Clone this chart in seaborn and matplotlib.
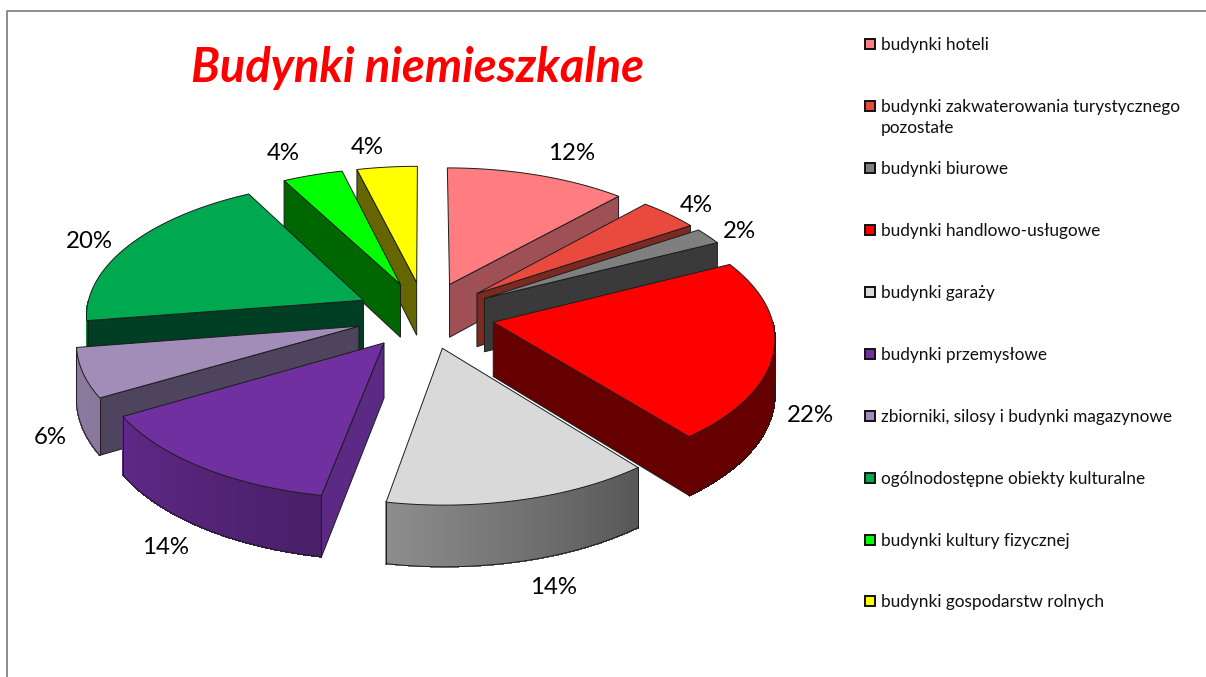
import numpy as np
import seaborn as sns
from matplotlib import pyplot as plt
from matplotlib.colors import to_rgb
from matplotlib.patches import Polygon, Rectangle

categories = ['budynki hoteli', 'budynki zakwaterowania turystycznego\npozostałe', 'budynki biurowe',
              'budynki handlowo-usługowe', 'budynki garaży', 'budynki przemysłowe',
              'zbiorniki, silosy i budynki magazynowe', 'ogólnodostępne obiekty kulturalne',
              'budynki kultury fizycznej', 'budynki gospodarstw rolnych']
values = [12, 4, 2, 22, 14, 14, 6, 20, 4, 4]
top_colors = ['#FF7C80', '#EA4A3E', '#7F7F7F', '#FF0000', '#D9D9D9',
              '#7030A0', '#A28DB8', '#00A94F', '#00FF00', '#FFFF00']
wall_colors = ['#9E5055', '#7B2A22', '#3A3A3A', '#660000', '#8A8A8A',
               '#5A2A85', '#4F445E', '#003F24', '#006600', '#666600']
label_pos = [(572, 154), (696, 206), (739, 232), (810, 415), (554, 587),
             (166, 547), (50, 438), (89, 241), (283, 154), (367, 147)]
legend_y = [44, 106, 168, 230, 292, 354, 416, 478, 540, 601]

# back slices first, so the front ones cover them
draw_order = [0, 1, 2, 9, 8, 7, 6, 3, 5, 4]

CX, CY = 425, 315
RX, RY = 278, 134
DEPTH = 54
EXPLODE = 0.25
PERSP = 0.1

sns.set_theme(style="white")
plt.rcParams['font.family'] = ['Lato', 'DejaVu Sans']
palette = sns.color_palette(top_colors)


def project(x, y, z=0.0):
    p = 1 / (1 - PERSP * y)
    return CX + RX * x * p, CY + (RY * y + DEPTH * z) * p


def arc_shade(t):
    # outer wall gets lighter going clockwise round the front
    return np.interp(t, [90, 141, 190, 240, 270], [0.40, 0.40, 0.65, 0.85, 0.87])


def draw_slice(ax, i, start, end, z):
    ex = EXPLODE * np.sin(np.radians((start + end) / 2))
    ey = -EXPLODE * np.cos(np.radians((start + end) / 2))
    ts = np.linspace(start, end, 80)
    xs = ex + np.sin(np.radians(ts))
    ys = ey - np.cos(np.radians(ts))
    edge = '#1c1c1c'

    # radial walls
    for t, sign in ((start, -1), (end, 1)):
        rad = np.radians(t)
        if sign * np.sin(rad) > 0.001:
            ox, oy = ex + np.sin(rad), ey - np.cos(rad)
            pts = [project(ex, ey, 0), project(ox, oy, 0), project(ox, oy, 1), project(ex, ey, 1)]
            ax.add_patch(Polygon(pts, closed=True, fc=wall_colors[i], ec=edge, lw=0.7, zorder=z))

    # outer wall
    front = (ts >= 90) & (ts <= 270)
    if front.sum() > 1:
        fx, fy, ft = xs[front], ys[front], ts[front]
        base = np.array(to_rgb(top_colors[i]))
        for k in range(len(ft) - 1):
            quad = [project(fx[k], fy[k], 0), project(fx[k + 1], fy[k + 1], 0),
                    project(fx[k + 1], fy[k + 1], 1), project(fx[k], fy[k], 1)]
            c = base * arc_shade(ft[k])
            ax.add_patch(Polygon(quad, closed=True, fc=c, ec=c, lw=0.6, antialiased=False, zorder=z))
        outline = [project(a, b, 1) for a, b in zip(fx, fy)]
        ax.plot(*zip(*outline), color=edge, lw=0.7, zorder=z)
        for k in (0, -1):
            ax.plot(*zip(project(fx[k], fy[k], 0), project(fx[k], fy[k], 1)), color=edge, lw=0.7, zorder=z)

    # top face
    pts = [project(ex, ey)] + [project(a, b) for a, b in zip(xs, ys)]
    ax.add_patch(Polygon(pts, closed=True, fc=palette[i], ec=edge, lw=0.7, zorder=z + 0.5))


fig = plt.figure(figsize=(12.06, 6.77), dpi=100)
ax = fig.add_axes([0, 0, 1, 1])
ax.set_xlim(0, 1206)
ax.set_ylim(677, 0)
ax.axis('off')

# chart frame, only the top and left show
ax.plot([7, 7, 1206], [677, 10.5, 10.5], color='#8c8c8c', lw=1.4, zorder=1)

angles = np.cumsum([0] + values) / sum(values) * 360
for z, i in enumerate(draw_order):
    draw_slice(ax, i, angles[i], angles[i + 1], z + 2)

for v, (lx, ly) in zip(values, label_pos):
    ax.text(lx, ly, f'{v}%', fontsize=17.3, color='black', ha='center', va='center', zorder=30)

ax.text(418, 68, 'Budynki niemieszkalne', color='#FF0000', fontsize=33.9,
        fontweight='bold', fontstyle='italic', ha='center', va='center', zorder=30)

for name, color, ly in zip(categories, palette, legend_y):
    ax.add_patch(Rectangle((865, ly - 5), 10, 10, fc=color, ec='#111111', lw=1.4, zorder=30))
    ax.text(881, ly - 7, name, fontsize=12.4, color='#111111', ha='left', va='top',
            linespacing=1.42, zorder=30)

fig.savefig('out.png', dpi=100)
plt.close(fig)
